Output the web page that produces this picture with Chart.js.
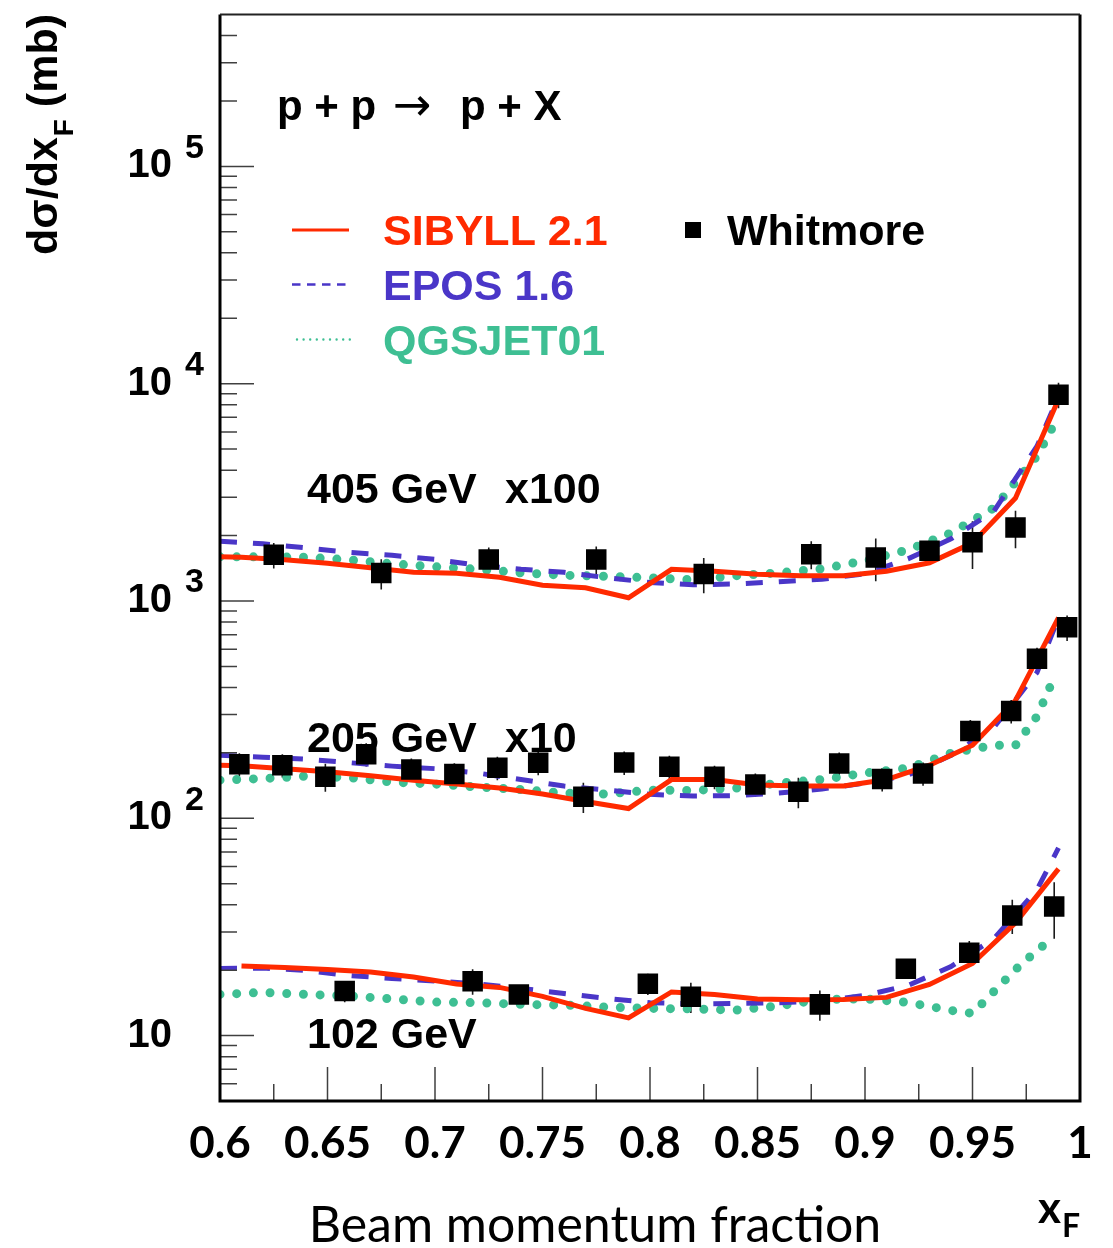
<!DOCTYPE html>
<html>
<head>
<meta charset="utf-8">
<title>p + p → p + X</title>
<script src="https://cdn.jsdelivr.net/npm/chart.js@4.4.1/dist/chart.umd.min.js"></script>
<style>
html,body{margin:0;padding:0;background:#ffffff;}
#box{position:relative;width:1113px;height:1248px;}
canvas{display:block;}
</style>
</head>
<body>
<div id="box"><canvas id="chart" width="1113" height="1248"></canvas></div>
<script>
// ---------------- axis ticks ----------------
const xTickValues = [0.6, 0.65, 0.7, 0.75, 0.8, 0.85, 0.9, 0.95, 1.0];
const xTickLabels = ['0.6', '0.65', '0.7', '0.75', '0.8', '0.85', '0.9', '0.95', '1'];
const yDecades    = [10, 100, 1000, 10000, 100000];
const yDecadeExp  = ['', '2', '3', '4', '5'];

// ---------------- Whitmore data (plotted values, mb) ----------------
const wX405  = [0.625, 0.675, 0.725, 0.775, 0.825, 0.875, 0.905, 0.93, 0.95, 0.97, 0.99];
const w405   = [1631, 1344, 1551, 1551, 1330, 1643, 1585, 1701, 1865, 2176, 8902];
const err405 = [220, 214, 210, 228, 245, 242, 352, 210, 463, 428, 1203];

const wX205  = [0.609, 0.629, 0.649, 0.668, 0.689, 0.709, 0.729, 0.748, 0.769, 0.788, 0.809,
                0.830, 0.849, 0.869, 0.888, 0.908, 0.927, 0.949, 0.968, 0.980, 0.994];
const w205   = [177.4, 175.6, 155.2, 197.2, 167.8, 159.7, 170.7, 179.9, 125.7, 180.7, 172.5,
                155.2, 143.2, 132.4, 178.8, 151.5, 160.9, 252.2, 311.5, 542, 756.5];
const err205 = [21.9, 21.6, 22.8, 24.3, 20.7, 19.7, 21.0, 22.2, 20.0, 22.3, 21.3,
                19.1, 17.6, 21.1, 22.0, 18.7, 19.8, 31.1, 38.4, 66.8, 102];

const wX102  = [0.658, 0.7175, 0.739, 0.799, 0.819, 0.879, 0.919, 0.9485, 0.9685, 0.988];
const w102   = [16.02, 17.80, 15.47, 17.31, 15.10, 13.92, 20.29, 24.03, 35.74, 39.31];
const err102 = [1.78, 2.40, 1.36, 1.93, 2.41, 2.22, 1.79, 3.25, 6.4, 11.4];

// ---------------- SIBYLL 2.1 ----------------
const sibX    = [0.60, 0.61, 0.63, 0.65, 0.67, 0.69, 0.71, 0.73, 0.75, 0.77, 0.79,
                 0.81, 0.83, 0.85, 0.87, 0.89, 0.91, 0.93, 0.95, 0.97, 0.99];
const sib405  = [1597, 1589, 1547, 1491, 1421, 1356, 1341, 1286, 1182, 1151, 1035,
                 1399, 1370, 1327, 1307, 1307, 1370, 1499, 1851, 2978, 8472];
const sib205  = [175.6, 174.7, 169.2, 163.9, 157.1, 149.8, 143.7, 137.7, 129.3, 119.4, 110.9,
                 150.7, 150.7, 142.2, 140.7, 140.7, 150.7, 175.6, 216.9, 348.8, 838];
const sibX102 = [0.61, 0.63, 0.65, 0.67, 0.69, 0.71, 0.73, 0.75, 0.77, 0.79,
                 0.81, 0.83, 0.85, 0.87, 0.89, 0.91, 0.93, 0.95, 0.97, 0.99];
const sib102  = [20.90, 20.57, 20.14, 19.62, 18.61, 17.28, 16.66, 15.15, 13.34, 12.07,
                 15.88, 15.47, 14.75, 14.60, 14.67, 14.99, 17.19, 21.46, 33.08, 58.54];

// ---------------- EPOS 1.6 ----------------
const eposX   = [0.60, 0.62, 0.64, 0.66, 0.68, 0.70, 0.72, 0.74, 0.76, 0.78, 0.80,
                 0.82, 0.84, 0.86, 0.88, 0.90, 0.92, 0.94, 0.96, 0.98, 0.99];
const epos405 = [1881, 1832, 1756, 1674, 1623, 1555, 1460, 1399, 1356, 1279, 1217,
                 1188, 1197, 1226, 1259, 1334, 1563, 1931, 2596, 5156, 8744];
const epos205 = [195.1, 191.0, 187.1, 180.3, 173.8, 169.2, 161.4, 150.7, 140.7, 134.8, 128.9,
                 126.6, 127.2, 130.6, 136.3, 145.2, 157.9, 195.1, 262.3, 469, 838];
const epos102 = [20.35, 20.46, 19.93, 18.91, 18.31, 17.84, 17.28, 16.48, 15.63, 14.83, 14.17,
                 13.99, 14.07, 14.17, 14.44, 15.31, 17.01, 20.79, 27.94, 46.90, 73.07];

// ---------------- QGSJET01 ----------------
const qgsX405 = [0.60, 0.62, 0.64, 0.66, 0.68, 0.70, 0.72, 0.74, 0.76, 0.78, 0.80,
                 0.82, 0.84, 0.86, 0.88, 0.90, 0.92, 0.94, 0.96, 0.98, 0.99];
const qgs405  = [1597, 1597, 1589, 1547, 1483, 1437, 1399, 1348, 1313, 1299, 1279,
                 1252, 1307, 1348, 1407, 1531, 1719, 2057, 2679, 4640, 7079];
const qgsX205 = [0.60, 0.62, 0.64, 0.66, 0.68, 0.70, 0.72, 0.74, 0.76, 0.78, 0.80,
                 0.82, 0.84, 0.86, 0.88, 0.90, 0.92, 0.94, 0.96, 0.97, 0.98, 0.988];
const qgs205  = [149.8, 152.3, 156.3, 153.9, 146.7, 143.7, 139.2, 135.6, 130.6, 129.3, 134.8,
                 134.2, 137.7, 145.2, 150.7, 161.4, 170.1, 199.3, 216.9, 216.9, 294.6, 444.8];
const qgsX102 = [0.60, 0.62, 0.64, 0.66, 0.68, 0.70, 0.72, 0.74, 0.76, 0.78, 0.80,
                 0.82, 0.84, 0.86, 0.88, 0.90, 0.92, 0.94, 0.95, 0.96, 0.97, 0.98, 0.988];
const qgs102  = [15.47, 15.80, 15.47, 15.22, 14.75, 14.26, 14.17, 13.92, 13.82, 13.53, 13.34,
                 13.27, 13.10, 13.70, 14.67, 14.75, 14.21, 13.06, 12.66, 15.97, 20.14, 24.62, 28.54];

// ---------------- styling ----------------
const C_RED = '#ff2a00', C_BLUE = '#4a36c8', C_GREEN = '#3ebf93';
const FONT_SANS = '"Liberation Sans", Arial, Helvetica, sans-serif';
const FONT_GILL = 'Lato, "Open Sans", sans-serif';

// minor + major tick positions (built from the tick arrays)
const xTickAll = [];
xTickValues.forEach((t, i) => { xTickAll.push(t); if (i < xTickValues.length - 1) xTickAll.push(t + 0.025); });
const yTickAll = [];
[1, 10, 100, 1000, 10000, 100000].forEach(d => {
  for (let m = 1; m <= 9; m++) { const v = m * d; if (v >= 5 && v <= 500000) yTickAll.push(v); }
});

function pairs(xs, ys) { return xs.map((v, i) => ({x: v, y: ys[i]})); }

const markerStyle = {showLine: false, pointStyle: 'rect', pointRadius: 14.5, pointHoverRadius: 14.5,
                     backgroundColor: '#000', borderColor: '#000', pointBorderWidth: 0};
const sibStyle  = {showLine: true, pointRadius: 0, borderColor: C_RED, borderWidth: 5, fill: false,
                   tension: 0, borderJoinStyle: 'miter'};
const eposStyle = {showLine: true, pointRadius: 0, borderColor: C_BLUE, borderWidth: 5, fill: false,
                   tension: 0, borderDash: [17, 16]};
const qgsStyle  = {showLine: true, pointRadius: 0, borderColor: C_GREEN, borderWidth: 9, fill: false,
                   tension: 0, borderDash: [0, 16.7], borderCapStyle: 'round'};

const datasets = [
  Object.assign({label: 'Whitmore 405 GeV', data: pairs(wX405, w405), errors: err405}, markerStyle),
  Object.assign({label: 'Whitmore 205 GeV', data: pairs(wX205, w205), errors: err205}, markerStyle),
  Object.assign({label: 'Whitmore 102 GeV', data: pairs(wX102, w102), errors: err102}, markerStyle),
  Object.assign({label: 'SIBYLL 2.1 405', data: pairs(sibX, sib405)}, sibStyle),
  Object.assign({label: 'SIBYLL 2.1 205', data: pairs(sibX, sib205)}, sibStyle),
  Object.assign({label: 'SIBYLL 2.1 102', data: pairs(sibX102, sib102)}, sibStyle),
  Object.assign({label: 'EPOS 1.6 405', data: pairs(eposX, epos405)}, eposStyle),
  Object.assign({label: 'EPOS 1.6 205', data: pairs(eposX, epos205)}, eposStyle),
  Object.assign({label: 'EPOS 1.6 102', data: pairs(eposX, epos102)}, eposStyle),
  Object.assign({label: 'QGSJET01 405', data: pairs(qgsX405, qgs405)}, qgsStyle),
  Object.assign({label: 'QGSJET01 205', data: pairs(qgsX205, qgs205)}, qgsStyle),
  Object.assign({label: 'QGSJET01 102', data: pairs(qgsX102, qgs102)}, qgsStyle)
];

// ---------------- plugins ----------------
const errorBarPlugin = {
  id: 'errorBars',
  beforeDatasetsDraw(chart) {
    const {ctx, chartArea: a, scales: {x, y}} = chart;
    ctx.save();
    ctx.beginPath(); ctx.rect(a.left, a.top, a.right - a.left, a.bottom - a.top); ctx.clip();
    ctx.strokeStyle = '#1a1a1a'; ctx.lineWidth = 1.6;
    chart.data.datasets.forEach(ds => {
      if (!ds.errors) return;
      ds.data.forEach((p, i) => {
        const e = ds.errors[i];
        const px = x.getPixelForValue(p.x);
        ctx.beginPath();
        ctx.moveTo(px, y.getPixelForValue(p.y + e));
        ctx.lineTo(px, y.getPixelForValue(Math.max(p.y - e, 1e-6)));
        ctx.stroke();
      });
    });
    ctx.restore();
  }
};

const framePlugin = {
  id: 'frameTicks',
  afterDraw(chart) {
    const {ctx, chartArea: a, scales: {x, y}} = chart;
    ctx.save();
    // inward ticks
    ctx.strokeStyle = '#404040'; ctx.lineWidth = 1.5;
    ctx.beginPath();
    x.ticks.forEach(t => {
      const px = x.getPixelForValue(t.value);
      if (px < a.left + 2 || px > a.right - 2) return;
      const len = xTickValues.includes(t.value) ? 34 : 17;
      ctx.moveTo(px, a.bottom); ctx.lineTo(px, a.bottom - len);
    });
    y.ticks.forEach(t => {
      const py = y.getPixelForValue(t.value);
      if (py < a.top + 2 || py > a.bottom - 2) return;
      const len = yDecades.includes(t.value) ? 34 : 17;
      ctx.moveTo(a.left, py); ctx.lineTo(a.left + len, py);
    });
    ctx.stroke();
    // frame
    ctx.strokeStyle = '#000'; ctx.lineWidth = 3;
    ctx.beginPath();
    ctx.moveTo(a.left, a.top); ctx.lineTo(a.left, a.bottom); ctx.lineTo(a.right, a.bottom); ctx.lineTo(a.right, a.top);
    ctx.stroke();
    ctx.strokeStyle = '#222'; ctx.lineWidth = 2;
    ctx.beginPath(); ctx.moveTo(a.left, a.top); ctx.lineTo(a.right, a.top); ctx.stroke();

    // exponents of y tick labels
    ctx.fillStyle = '#000';
    ctx.textAlign = 'left';
    ctx.textBaseline = 'middle';
    ctx.font = 'bold 34px ' + FONT_SANS;
    yDecades.forEach((d, i) => {
      if (yDecadeExp[i]) ctx.fillText(yDecadeExp[i], 185, y.getPixelForValue(d) - 18);
    });

    // y-axis title
    ctx.save();
    ctx.translate(57, 255);
    ctx.rotate(-Math.PI / 2);
    ctx.textBaseline = 'alphabetic';
    ctx.font = 'bold 43px ' + FONT_SANS;
    ctx.fillText('dσ/dx', 0, 0);
    let w = ctx.measureText('dσ/dx').width;
    ctx.font = 'bold 28px ' + FONT_SANS;
    ctx.fillText('F', w + 1, 16);
    w += ctx.measureText('F').width + 1;
    ctx.font = 'bold 43px ' + FONT_SANS;
    ctx.fillText(' (mb)', w, 0);
    ctx.restore();

    // x-axis title
    ctx.textBaseline = 'alphabetic';
    ctx.textAlign = 'center';
    ctx.font = '50px ' + FONT_GILL;
    ctx.fillText('Beam momentum fraction', 595, 1242);
    ctx.textAlign = 'left';
    ctx.font = 'bold 44px ' + FONT_GILL;
    ctx.fillText('x', 1038, 1223);
    ctx.font = 'bold 32px ' + FONT_GILL;
    ctx.fillText('F', 1062, 1237);

    // reaction label
    ctx.font = 'bold 42px ' + FONT_SANS;
    ctx.fillText('p + p', 277, 120);
    ctx.fillText('p + X', 460, 120);
    ctx.font = '46px "DejaVu Sans", sans-serif';
    ctx.textBaseline = 'middle';
    ctx.fillText('→', 393, 108);

    // energy labels
    ctx.textBaseline = 'alphabetic';
    ctx.font = 'bold 43px ' + FONT_SANS;
    ctx.fillText('405 GeV', 307, 503);
    ctx.fillText('x100', 505, 503);
    ctx.fillText('205 GeV', 307, 752);
    ctx.fillText('x10', 505, 752);
    ctx.fillText('102 GeV', 307, 1048);

    // legend
    ctx.lineWidth = 3; ctx.strokeStyle = C_RED; ctx.setLineDash([]);
    ctx.beginPath(); ctx.moveTo(292, 230); ctx.lineTo(349, 230); ctx.stroke();
    ctx.lineWidth = 2.6; ctx.strokeStyle = C_BLUE; ctx.setLineDash([8.5, 6.5]);
    ctx.beginPath(); ctx.moveTo(292, 284.5); ctx.lineTo(349, 284.5); ctx.stroke();
    ctx.lineWidth = 2.4; ctx.strokeStyle = C_GREEN; ctx.setLineDash([0, 6.6]); ctx.lineCap = 'round';
    ctx.beginPath(); ctx.moveTo(297, 339.5); ctx.lineTo(350, 339.5); ctx.stroke();
    ctx.setLineDash([]); ctx.lineCap = 'butt';
    ctx.fillStyle = '#000';
    ctx.fillRect(685, 222, 16, 16);

    ctx.font = 'bold 43px ' + FONT_SANS;
    ctx.fillStyle = C_RED;   ctx.fillText('SIBYLL 2.1', 383, 245);
    ctx.fillStyle = C_BLUE;  ctx.fillText('EPOS 1.6', 383, 300);
    ctx.fillStyle = C_GREEN; ctx.fillText('QGSJET01', 383, 355);
    ctx.fillStyle = '#000';  ctx.fillText('Whitmore', 727, 245);
    ctx.restore();
  }
};

new Chart(document.getElementById('chart'), {
  type: 'scatter',
  data: {datasets},
  options: {
    responsive: false,
    animation: false,
    devicePixelRatio: 1,
    events: [],
    layout: {padding: {top: 12, right: 33, bottom: 0, left: 0}},
    plugins: {legend: {display: false}, tooltip: {enabled: false}},
    scales: {
      x: {
        type: 'linear', position: 'bottom', min: 0.6, max: 1.0,
        grid: {display: false, drawTicks: false}, border: {display: false},
        afterBuildTicks: s => { s.ticks = xTickAll.map(v => ({value: v})); },
        afterFit: s => { s.height = 147; s.paddingLeft = 0; s.paddingRight = 0; },
        ticks: {
          autoSkip: false, maxRotation: 0, minRotation: 0, padding: 16, color: '#000',
          font: {family: FONT_GILL, weight: 'bold', size: 44},
          callback: v => { const i = xTickValues.indexOf(v); return i >= 0 ? xTickLabels[i] : ''; }
        }
      },
      y: {
        type: 'logarithmic', position: 'left', min: 5, max: 500000,
        grid: {display: false, drawTicks: false}, border: {display: false},
        afterBuildTicks: s => { s.ticks = yTickAll.map(v => ({value: v})); },
        afterFit: s => { s.width = 220; s.paddingTop = 0; s.paddingBottom = 0; },
        ticks: {
          autoSkip: false, padding: 48, color: '#000',
          font: {family: FONT_SANS, weight: 'bold', size: 40},
          callback: v => yDecades.includes(v) ? '10' : ''
        }
      }
    }
  },
  plugins: [errorBarPlugin, framePlugin]
});
</script>
</body>
</html>
